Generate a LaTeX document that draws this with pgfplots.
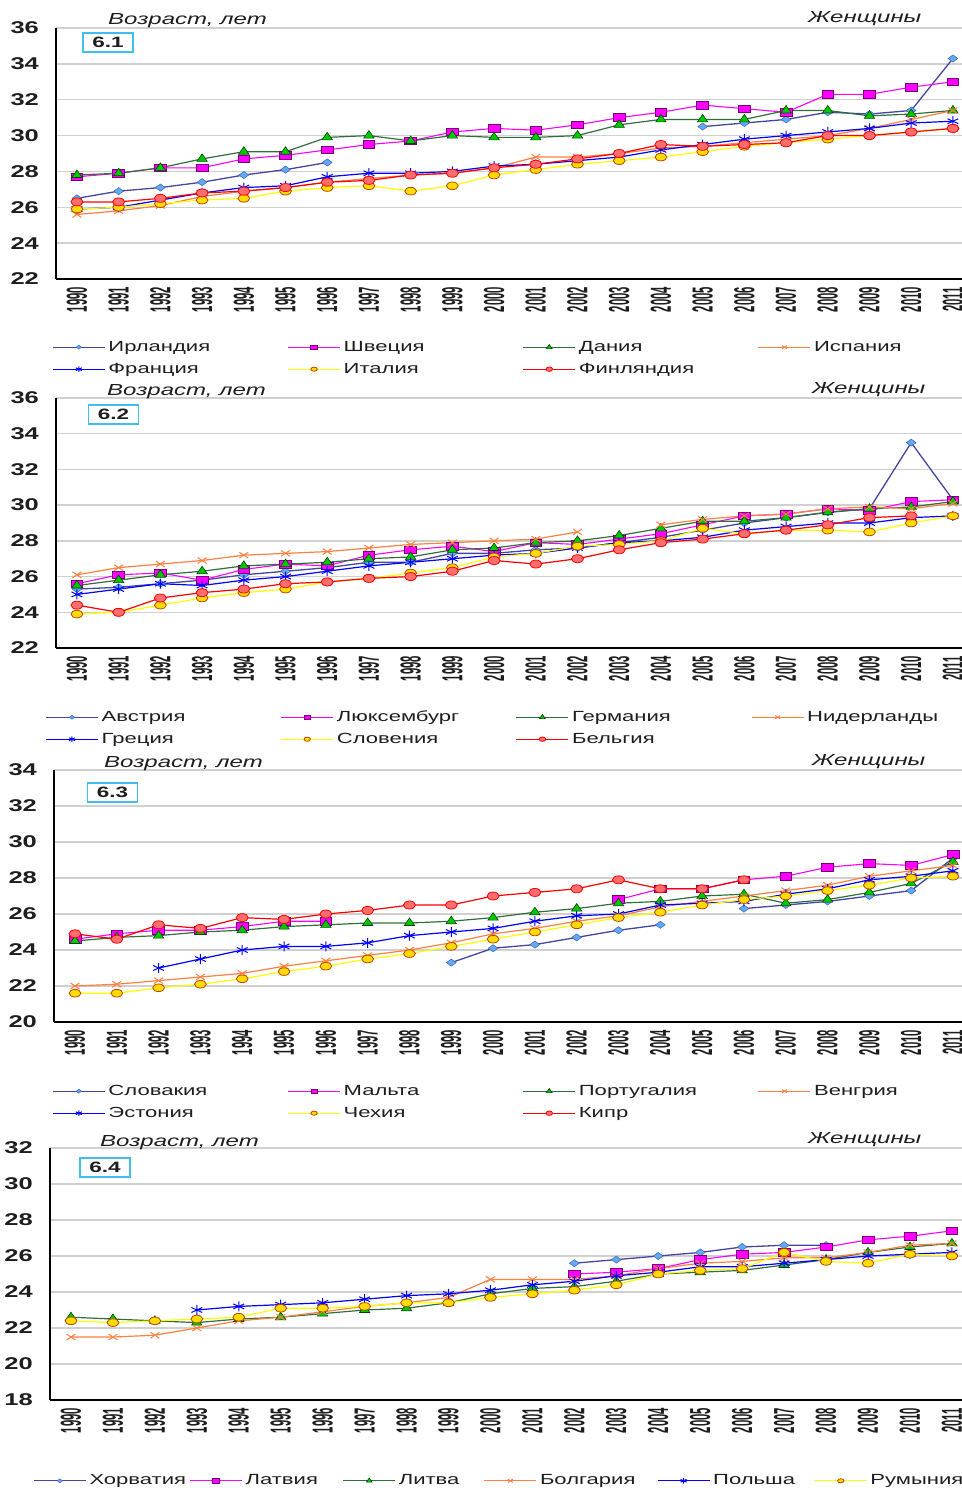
\documentclass[border=0pt]{standalone}
\usepackage{pgfplots}
\pgfplotsset{compat=1.18}
\usepackage{pgfplotstable}
\usepackage{fontspec}
\setmainfont{Liberation Sans}[FakeStretch=1.5]
\newfontfamily\yrfont{Liberation Sans}

\definecolor{cNavy}{RGB}{70,70,160}
\definecolor{cDiaF}{RGB}{100,170,235}
\definecolor{cDiaD}{RGB}{60,100,200}
\definecolor{cMag}{RGB}{255,0,255}
\definecolor{cPur}{RGB}{120,0,120}
\definecolor{cGreen}{RGB}{50,110,60}
\definecolor{cLime}{RGB}{0,200,0}
\definecolor{cDkG}{RGB}{0,70,0}
\definecolor{cOrg}{RGB}{255,128,64}
\definecolor{cBlue}{RGB}{0,0,255}
\definecolor{cYel}{RGB}{255,255,0}
\definecolor{cYelF}{RGB}{255,220,0}
\definecolor{cBrn}{RGB}{190,70,0}
\definecolor{cRed}{RGB}{255,0,0}
\definecolor{cPink}{RGB}{255,110,110}
\definecolor{gridc}{RGB}{208,208,208}
\definecolor{cBox}{RGB}{64,190,240}
\definecolor{txt}{RGB}{30,30,30}

\newcommand\LE[2]{\makebox[#1][l]{\hspace{3pt}#2}}

% 6.1
\pgfplotstableread{
year IE SE DK ES FR IT FI
1990 26.5 27.7 27.8 25.6 25.9 25.9 26.3
1991 26.9 27.9 27.9 25.8 26.0 26.0 26.3
1992 27.1 28.2 28.2 26.1 26.4 26.2 26.5
1993 27.4 28.2 28.7 26.6 26.8 26.4 26.8
1994 27.8 28.7 29.1 26.9 27.1 26.5 26.9
1995 28.1 28.9 29.1 27.1 27.2 26.9 27.1
1996 28.5 29.2 29.9 27.4 27.7 27.1 27.4
1997 nan 29.5 30.0 27.6 27.9 27.2 27.5
1998 nan 29.7 29.7 27.8 27.9 26.9 27.8
1999 nan 30.2 30.0 27.9 28.0 27.2 27.9
2000 nan 30.4 29.9 28.2 28.3 27.8 28.2
2001 nan 30.3 29.9 28.8 28.4 28.1 28.4
2002 nan 30.6 30.0 28.8 28.6 28.4 28.7
2003 nan 31.0 30.6 29.0 28.8 28.6 29.0
2004 nan 31.3 30.9 29.3 29.2 28.8 29.5
2005 30.5 31.7 30.9 29.4 29.5 29.1 29.4
2006 30.7 31.5 30.9 29.6 29.8 29.4 29.5
2007 30.9 31.3 31.4 29.8 30.0 29.6 29.6
2008 31.3 32.3 31.4 30.0 30.2 29.8 30.0
2009 31.2 32.3 31.1 30.4 30.4 30.0 30.0
2010 31.4 32.7 31.2 30.9 30.7 30.2 30.2
2011 34.3 33.0 31.4 31.4 30.8 30.4 30.4
}\tA

% 6.2
\pgfplotstableread{
year AT LU DE NL GR SI BE
1990 25.3 25.6 25.5 26.1 25.0 23.9 24.4
1991 25.4 26.1 25.8 26.5 25.3 24.0 24.0
1992 25.6 26.2 26.1 26.7 25.6 24.4 24.8
1993 25.8 25.8 26.3 26.9 25.5 24.8 25.1
1994 26.1 26.4 26.6 27.2 25.8 25.1 25.3
1995 26.3 26.7 26.7 27.3 26.0 25.3 25.6
1996 26.5 26.6 26.8 27.4 26.3 25.7 25.7
1997 26.8 27.2 27.0 27.6 26.6 25.9 25.9
1998 26.8 27.5 27.1 27.8 26.8 26.2 26.0
1999 27.3 27.7 27.5 27.9 27.0 26.5 26.3
2000 27.3 27.4 27.6 28.0 27.2 27.1 26.9
2001 27.5 27.9 27.9 28.1 27.3 27.3 26.7
2002 27.6 27.8 28.0 28.5 27.6 27.7 27.0
2003 27.9 28.1 28.3 nan 27.9 27.8 27.5
2004 28.2 28.4 28.7 28.9 28.0 28.0 27.9
2005 28.6 28.9 29.1 29.2 28.2 28.7 28.1
2006 29.0 29.4 29.1 29.4 28.6 28.4 28.4
2007 29.3 29.5 29.3 29.5 28.8 28.6 28.6
2008 29.6 29.8 29.6 29.8 29.0 28.6 28.9
2009 29.8 29.7 29.8 29.9 29.0 28.5 29.3
2010 33.5 30.2 29.9 29.8 29.3 29.0 29.4
2011 30.3 30.3 30.2 30.1 29.4 29.4 nan
}\tB

% 6.3
\pgfplotstableread{
year SK MT PT HU EE CZ CY
1990 nan 24.6 24.5 22.0 nan 21.6 24.9
1991 nan 24.9 24.7 22.1 nan 21.6 24.6
1992 nan 25.1 24.8 22.3 23.0 21.9 25.4
1993 nan 25.1 25.0 22.5 23.5 22.1 25.2
1994 nan 25.3 25.1 22.7 24.0 22.4 25.8
1995 nan 25.6 25.3 23.1 24.2 22.8 25.7
1996 nan 25.6 25.4 23.4 24.2 23.1 26.0
1997 nan nan 25.5 23.7 24.4 23.5 26.2
1998 nan nan 25.5 24.0 24.8 23.8 26.5
1999 23.3 nan 25.6 24.4 25.0 24.2 26.5
2000 24.1 nan 25.8 24.9 25.2 24.6 27.0
2001 24.3 nan 26.1 25.2 25.6 25.0 27.2
2002 24.7 nan 26.3 25.6 25.9 25.4 27.4
2003 25.1 26.8 26.6 25.9 26.0 25.8 27.9
2004 25.4 27.4 26.7 26.4 26.5 26.1 27.4
2005 nan 27.4 27.0 26.7 26.6 26.5 27.4
2006 26.3 27.9 27.1 27.0 26.7 26.8 27.9
2007 26.5 28.1 26.6 27.3 27.1 27.0 nan
2008 26.7 28.6 26.8 27.6 27.4 27.3 nan
2009 27.0 28.8 27.2 28.1 27.9 27.6 nan
2010 27.3 28.7 27.7 28.4 28.1 28.0 nan
2011 29.1 29.3 28.9 28.7 28.4 28.1 nan
}\tC

% 6.4
\pgfplotstableread{
year HR LV LT BG PL RO
1990 nan nan 22.6 21.5 nan 22.4
1991 nan nan 22.5 21.5 nan 22.3
1992 nan nan 22.4 21.6 nan 22.4
1993 nan nan 22.3 22.0 23.0 22.5
1994 nan nan 22.5 22.4 23.2 22.6
1995 nan nan 22.6 22.6 23.3 23.1
1996 nan nan 22.8 22.9 23.4 23.1
1997 nan nan 23.0 23.2 23.6 23.2
1998 nan nan 23.1 23.4 23.8 23.4
1999 nan nan 23.4 23.7 23.9 23.4
2000 nan nan 23.9 24.7 24.1 23.7
2001 nan nan 24.2 24.7 24.4 23.9
2002 25.6 25.0 24.3 24.7 24.6 24.1
2003 25.8 25.1 24.6 24.9 24.9 24.4
2004 26.0 25.3 25.0 25.3 25.1 25.0
2005 26.2 25.8 25.1 25.6 25.4 25.2
2006 26.5 26.1 25.2 25.7 25.4 25.3
2007 26.6 26.2 25.5 25.9 25.6 26.2
2008 26.6 26.5 25.8 25.9 25.8 25.7
2009 nan 26.9 26.2 26.2 26.0 25.6
2010 nan 27.1 26.5 26.6 26.1 26.1
2011 nan 27.4 26.7 26.7 26.2 26.0
}\tD

\pgfplotsset{
  /pgf/number format/assume math mode=true,
  legend image code/.code={
    \draw[mark repeat=2, mark phase=2, #1, every mark/.append style={scale=0.55}]
      plot coordinates {(0pt,0pt) (26pt,0pt) (52pt,0pt)};},
  sA/.style={color=cNavy, line width=1.3pt, mark=diamond*, mark size=3.6pt,
    mark options={fill=cDiaF, draw=cDiaD, line width=0.5pt, xscale=1.8}},
  sB/.style={color=cMag, line width=1.1pt, mark=square*, mark size=3.8pt,
    mark options={fill=cMag, draw=cPur, line width=0.7pt, xscale=1.55}},
  sC/.style={color=cGreen, line width=1.2pt, mark=triangle*, mark size=5pt,
    mark options={fill=cLime, draw=cDkG, line width=0.6pt, xscale=1.2}},
  sD/.style={color=cOrg, line width=1.2pt, mark=x, mark size=4.2pt,
    mark options={xscale=1.5, line width=1pt}},
  sE/.style={color=cBlue, line width=1.2pt, mark=asterisk, mark size=5pt,
    mark options={xscale=1.25, line width=1pt}},
  sF/.style={color=cYel, line width=1.2pt, mark=*, mark size=3.8pt,
    mark options={fill=cYelF, draw=cBrn, line width=0.8pt, xscale=1.55}},
  sG/.style={color=cRed, line width=1.2pt, mark=*, mark size=4pt,
    mark options={fill=cPink, draw=cRed, line width=0.8pt, xscale=1.5}},
  panel/.style={
    scale only axis, anchor=south west,
    xmin=1989.5, xmax=2011.4,
    xtick={1990,...,2011}, ytick distance=2,
    ymajorgrids, major grid style={draw=gridc, line width=1.4pt},
    axis x line*=bottom, axis y line*=left,
    axis line style={-, black, line width=1.6pt},
    major tick length=0pt,
    unbounded coords=jump,
    xticklabel={\scalebox{0.75}[1.93]{\yrfont\bfseries\fontsize{15}{15}\selectfont\pgfmathprintnumber[fixed,precision=0,1000 sep={}]{\tick}}},
    xticklabel style={inner sep=0pt, yshift=-8pt, rotate=90, anchor=east, text=txt},
    yticklabel style={font=\bfseries\fontsize{17}{17}\selectfont, inner sep=0pt, anchor=east, xshift=-17pt, text=txt},
    legend cell align=left,
    legend style={draw=none, fill=none, anchor=north west, legend columns=4, inner sep=0pt,
      font=\fontsize{14.7}{16}\selectfont, text=txt,
      nodes={inner sep=0pt, text depth=3pt, text height=11pt},
      /tikz/column sep=0pt, /tikz/row sep=8pt},
  },
}

\begin{document}
\begin{tikzpicture}
\useasboundingbox (0,0) rectangle (961pt,-1488pt);

% ---- 6.1
\begin{axis}[panel, at={(56.1pt,-279pt)}, width=913.5pt, height=251pt, ymin=22, ymax=36,
  legend style={at={(axis description cs:-0.0045,-0.243)}}]
\addplot[sA] table[x=year,y=IE]{\tA}; \addlegendentry{\LE{182pt}{Ирландия}}
\addplot[sB] table[x=year,y=SE]{\tA}; \addlegendentry{\LE{182pt}{Швеция}}
\addplot[sC] table[x=year,y=DK]{\tA}; \addlegendentry{\LE{182pt}{Дания}}
\addplot[sD] table[x=year,y=ES]{\tA}; \addlegendentry{\LE{182pt}{Испания}}
\addplot[sE] table[x=year,y=FR]{\tA}; \addlegendentry{\LE{182pt}{Франция}}
\addplot[sF] table[x=year,y=IT]{\tA}; \addlegendentry{\LE{182pt}{Италия}}
\addplot[sG] table[x=year,y=FI]{\tA}; \addlegendentry{\LE{182pt}{Финляндия}}
\end{axis}

% ---- 6.2
\begin{axis}[panel, at={(56.1pt,-648pt)}, width=913.5pt, height=250pt, ymin=22, ymax=36,
  legend style={at={(axis description cs:-0.012,-0.248)}}]
\addplot[sA] table[x=year,y=AT]{\tB}; \addlegendentry{\LE{182pt}{Австрия}}
\addplot[sB] table[x=year,y=LU]{\tB}; \addlegendentry{\LE{182pt}{Люксембург}}
\addplot[sC] table[x=year,y=DE]{\tB}; \addlegendentry{\LE{182pt}{Германия}}
\addplot[sD] table[x=year,y=NL]{\tB}; \addlegendentry{\LE{182pt}{Нидерланды}}
\addplot[sE] table[x=year,y=GR]{\tB}; \addlegendentry{\LE{182pt}{Греция}}
\addplot[sF] table[x=year,y=SI]{\tB}; \addlegendentry{\LE{182pt}{Словения}}
\addplot[sG] table[x=year,y=BE]{\tB}; \addlegendentry{\LE{182pt}{Бельгия}}
\end{axis}

% ---- 6.3
\begin{axis}[panel, at={(54.1pt,-1022pt)}, width=915.6pt, height=252pt, ymin=20, ymax=34,
  legend style={at={(axis description cs:-0.0023,-0.246)}}]
\addplot[sA] table[x=year,y=SK]{\tC}; \addlegendentry{\LE{182pt}{Словакия}}
\addplot[sB] table[x=year,y=MT]{\tC}; \addlegendentry{\LE{182pt}{Мальта}}
\addplot[sC] table[x=year,y=PT]{\tC}; \addlegendentry{\LE{182pt}{Португалия}}
\addplot[sD] table[x=year,y=HU]{\tC}; \addlegendentry{\LE{182pt}{Венгрия}}
\addplot[sE] table[x=year,y=EE]{\tC}; \addlegendentry{\LE{182pt}{Эстония}}
\addplot[sF] table[x=year,y=CZ]{\tC}; \addlegendentry{\LE{182pt}{Чехия}}
\addplot[sG] table[x=year,y=CY]{\tC}; \addlegendentry{\LE{182pt}{Кипр}}
\end{axis}

% ---- 6.4
\begin{axis}[panel, at={(50pt,-1400pt)}, width=918.7pt, height=252pt, ymin=18, ymax=32,
  legend style={at={(axis description cs:-0.0185,-0.292)}, legend columns=6}]
\addplot[sA] table[x=year,y=HR]{\tD}; \addlegendentry{\LE{103pt}{Хорватия}}
\addplot[sB] table[x=year,y=LV]{\tD}; \addlegendentry{\LE{100pt}{Латвия}}
\addplot[sC] table[x=year,y=LT]{\tD}; \addlegendentry{\LE{88pt}{Литва}}
\addplot[sD] table[x=year,y=BG]{\tD}; \addlegendentry{\LE{120pt}{Болгария}}
\addplot[sE] table[x=year,y=PL]{\tD}; \addlegendentry{\LE{104pt}{Польша}}
\addplot[sF] table[x=year,y=RO]{\tD}; \addlegendentry{\LE{100pt}{Румыния}}
\end{axis}

% titles and panel numbers
\begin{scope}[every node/.style={text=txt, inner sep=0pt, anchor=base west,
    font=\itshape\fontsize{16}{16}\selectfont}]
\node at (108pt,-25pt) {Возраст, лет};
\node at (808pt,-23pt) {Женщины};
\node at (107pt,-395pt) {Возраст, лет};
\node at (812pt,-393pt) {Женщины};
\node at (104pt,-767pt) {Возраст, лет};
\node at (812pt,-765pt) {Женщины};
\node at (100pt,-1146pt) {Возраст, лет};
\node at (808pt,-1143pt) {Женщины};
\end{scope}
\begin{scope}[every node/.style={draw=cBox, line width=1.6pt, fill=white, inner sep=0pt,
    minimum width=50pt, minimum height=19pt, text=txt,
    font=\bfseries\fontsize{15}{15}\selectfont}]
\node at (108pt,-42.5pt) {6.1};
\node at (113.5pt,-414.5pt) {6.2};
\node at (112.5pt,-792.5pt) {6.3};
\node at (105pt,-1167.5pt) {6.4};
\end{scope}
\end{tikzpicture}
\end{document}
